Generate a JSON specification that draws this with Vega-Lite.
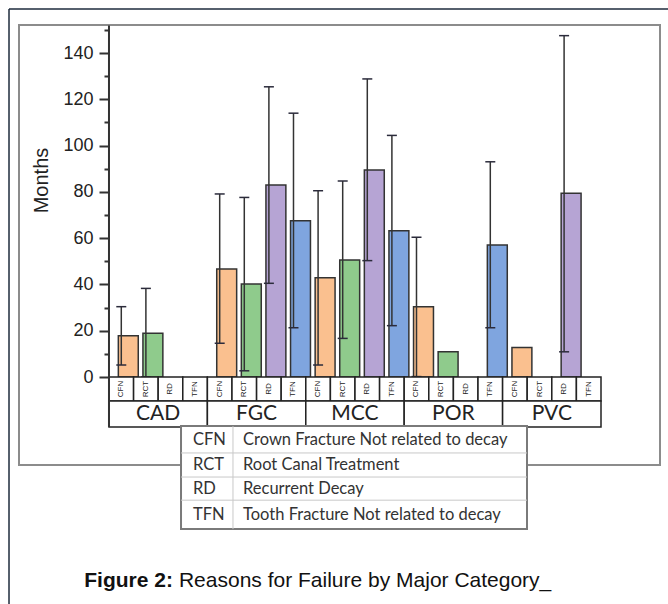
{
  "$schema": "https://vega.github.io/schema/vega-lite/v6.json",
  "width": 641,
  "height": 440,
  "autosize": {"type": "none"},
  "padding": {"left": 19, "top": 25, "right": 8, "bottom": 139},
  "background": "white",
  "config": {
    "view": {"stroke": "#8c8c8c", "strokeWidth": 2},
    "text": {"font": "Liberation Sans"}
  },
  "datasets": {
    "bars": [
      {"cat": "CAD", "reason": "CFN", "mean": 17.8, "lo": 5.2, "hi": 30.4},
      {"cat": "CAD", "reason": "RCT", "mean": 18.9, "lo": 0, "hi": 38.3},
      {"cat": "FGC", "reason": "CFN", "mean": 46.7, "lo": 14.6, "hi": 79.1},
      {"cat": "FGC", "reason": "RCT", "mean": 40.2, "lo": 2.7, "hi": 77.6},
      {"cat": "FGC", "reason": "RD", "mean": 83.0, "lo": 40.5, "hi": 125.4},
      {"cat": "FGC", "reason": "TFN", "mean": 67.5, "lo": 21.3, "hi": 114.0},
      {"cat": "MCC", "reason": "CFN", "mean": 42.9, "lo": 5.2, "hi": 80.5},
      {"cat": "MCC", "reason": "RCT", "mean": 50.6, "lo": 16.7, "hi": 84.7},
      {"cat": "MCC", "reason": "RD", "mean": 89.5, "lo": 50.3, "hi": 128.8},
      {"cat": "MCC", "reason": "TFN", "mean": 63.2, "lo": 22.2, "hi": 104.4},
      {"cat": "POR", "reason": "CFN", "mean": 30.4, "lo": 0.2, "hi": 60.4},
      {"cat": "POR", "reason": "RCT", "mean": 10.9, "lo": null, "hi": null},
      {"cat": "POR", "reason": "TFN", "mean": 57.0, "lo": 21.3, "hi": 93.0},
      {"cat": "PVC", "reason": "CFN", "mean": 12.8, "lo": null, "hi": null},
      {"cat": "PVC", "reason": "RD", "mean": 79.4, "lo": 10.9, "hi": 147.5}
    ],
    "cells": [
      {"cat": "CAD", "reason": "CFN"}, {"cat": "CAD", "reason": "RCT"}, {"cat": "CAD", "reason": "RD"}, {"cat": "CAD", "reason": "TFN"},
      {"cat": "FGC", "reason": "CFN"}, {"cat": "FGC", "reason": "RCT"}, {"cat": "FGC", "reason": "RD"}, {"cat": "FGC", "reason": "TFN"},
      {"cat": "MCC", "reason": "CFN"}, {"cat": "MCC", "reason": "RCT"}, {"cat": "MCC", "reason": "RD"}, {"cat": "MCC", "reason": "TFN"},
      {"cat": "POR", "reason": "CFN"}, {"cat": "POR", "reason": "RCT"}, {"cat": "POR", "reason": "RD"}, {"cat": "POR", "reason": "TFN"},
      {"cat": "PVC", "reason": "CFN"}, {"cat": "PVC", "reason": "RCT"}, {"cat": "PVC", "reason": "RD"}, {"cat": "PVC", "reason": "TFN"}
    ],
    "cats": [{"cat": "CAD"}, {"cat": "FGC"}, {"cat": "MCC"}, {"cat": "POR"}, {"cat": "PVC"}],
    "legend": [
      {"code": "CFN", "desc": "Crown Fracture Not related to decay"},
      {"code": "RCT", "desc": "Root Canal Treatment"},
      {"code": "RD", "desc": "Recurrent Decay"},
      {"code": "TFN", "desc": "Tooth Fracture Not related to decay"}
    ],
    "one": [{"k": 1}]
  },
  "resolve": {"axis": {"y": "independent", "x": "independent"}},
  "layer": [
    {
      "data": {"name": "bars"},
      "mark": {"type": "bar", "stroke": "#333333", "strokeWidth": 1.5, "width": {"band": 0.81}},
      "encoding": {
        "x": {"field": "cat", "type": "nominal", "axis": null,
              "scale": {"domain": ["CAD", "FGC", "MCC", "POR", "PVC"], "paddingInner": 0, "paddingOuter": 0.757, "align": 0.604}},
        "xOffset": {"field": "reason", "type": "nominal",
              "scale": {"domain": ["CFN", "RCT", "RD", "TFN"], "paddingInner": 0, "paddingOuter": 0}},
        "y": {"field": "mean", "type": "quantitative",
              "scale": {"domain": [-38, 152.1], "nice": false, "zero": false},
              "axis": {"orient": "left", "offset": -90, "values": [0, 20, 40, 60, 80, 100, 120, 140],
                       "domain": false, "grid": false, "tickSize": 10, "tickWidth": 2, "tickColor": "#333333",
                       "labelFont": "Liberation Sans", "labelFontSize": 18, "labelColor": "#222222", "labelPadding": 6,
                       "title": "Months", "titleFont": "Liberation Sans", "titleFontSize": 20, "titleFontWeight": "normal",
                       "titleColor": "#222222", "titleX": -58, "titleY": 155}},
        "y2": {"datum": 0},
        "color": {"field": "reason", "type": "nominal", "legend": null,
                  "scale": {"domain": ["CFN", "RCT", "RD", "TFN"], "range": ["#FAC08F", "#8FCB8C", "#B6A4D4", "#7FA5DF"]}}
      }
    },
    {
      "data": {"name": "bars"},
      "transform": [{"filter": "isValid(datum.lo)"}],
      "mark": {"type": "rule", "stroke": "#333333", "strokeWidth": 1.5},
      "encoding": {
        "x": {"field": "cat", "type": "nominal", "axis": null},
        "xOffset": {"field": "reason", "type": "nominal"},
        "y": {"field": "lo", "type": "quantitative",
              "axis": {"orient": "left", "offset": -90, "values": [10, 30, 50, 70, 90, 110, 130, 150],
                       "domain": false, "grid": false, "labels": false, "title": null,
                       "tickSize": 5, "tickWidth": 2, "tickColor": "#333333"}},
        "y2": {"field": "hi"}
      }
    },
    {
      "data": {"name": "bars"},
      "transform": [{"filter": "isValid(datum.hi)"}],
      "mark": {"type": "tick", "size": 10, "thickness": 1.5, "color": "#2b2b3b", "opacity": 1},
      "encoding": {
        "x": {"field": "cat", "type": "nominal", "axis": null},
        "xOffset": {"field": "reason", "type": "nominal"},
        "y": {"field": "hi", "type": "quantitative", "axis": null}
      }
    },
    {
      "data": {"name": "bars"},
      "transform": [{"filter": "isValid(datum.lo)"}],
      "mark": {"type": "tick", "size": 10, "thickness": 1.5, "color": "#2b2b3b", "opacity": 1},
      "encoding": {
        "x": {"field": "cat", "type": "nominal", "axis": null},
        "xOffset": {"field": "reason", "type": "nominal"},
        "y": {"field": "lo", "type": "quantitative", "axis": null}
      }
    },
    {
      "data": {"name": "cells"},
      "mark": {"type": "bar", "fill": "white", "stroke": "#222222", "strokeWidth": 1.5, "width": {"band": 1}},
      "encoding": {
        "x": {"field": "cat", "type": "nominal", "axis": null},
        "xOffset": {"field": "reason", "type": "nominal"},
        "y": {"datum": 0, "type": "quantitative", "axis": null},
        "y2": {"datum": -10.37}
      }
    },
    {
      "data": {"name": "cats"},
      "mark": {"type": "bar", "fill": "white", "stroke": "#222222", "strokeWidth": 1.5, "width": {"band": 1}},
      "encoding": {
        "x": {"field": "cat", "type": "nominal", "axis": null},
        "y": {"datum": -10.37, "type": "quantitative", "axis": null},
        "y2": {"datum": -21.6}
      }
    },
    {
      "data": {"name": "one"},
      "mark": {"type": "rule", "stroke": "#333333", "strokeWidth": 2},
      "encoding": {
        "x": {"datum": "CAD", "bandPosition": 0, "axis": null},
        "y": {"datum": 151.9, "type": "quantitative", "axis": null},
        "y2": {"datum": -21.6}
      }
    },
    {
      "data": {"name": "cells"},
      "mark": {"type": "text", "angle": 270, "fontSize": 8, "color": "#222222", "baseline": "middle", "align": "center"},
      "encoding": {
        "x": {"field": "cat", "type": "nominal", "axis": null},
        "xOffset": {"field": "reason", "type": "nominal"},
        "y": {"datum": -5.18, "type": "quantitative", "axis": null},
        "text": {"field": "reason"}
      }
    },
    {
      "data": {"name": "cats"},
      "mark": {"type": "text", "font": "Lato", "fontSize": 21, "color": "#222222", "baseline": "middle", "align": "center"},
      "encoding": {
        "x": {"field": "cat", "type": "nominal", "axis": null},
        "y": {"datum": -16, "type": "quantitative", "axis": null},
        "text": {"field": "cat"}
      }
    },
    {
      "data": {"name": "one"},
      "mark": {"type": "rule", "stroke": "#1e2b3c", "strokeWidth": 1.5},
      "encoding": {
        "x": {"datum": "CAD", "bandPosition": -1.016, "axis": null},
        "y": {"datum": 159.0, "type": "quantitative", "axis": null},
        "y2": {"datum": -120}
      }
    },
    {
      "data": {"name": "one"},
      "mark": {"type": "rule", "stroke": "#1e2b3c", "strokeWidth": 1.5},
      "encoding": {
        "x": {"datum": "CAD", "bandPosition": -1.016, "axis": null},
        "x2": {"datum": "PVC", "bandPosition": 2.0},
        "y": {"datum": 159.0, "type": "quantitative", "axis": null}
      }
    },
    {
      "data": {"name": "one"},
      "mark": {"type": "rect", "fill": "white", "stroke": "#7a7a7a", "strokeWidth": 2},
      "encoding": {
        "x": {"datum": "CAD", "bandPosition": 0.732, "axis": null},
        "x2": {"datum": "PVC", "bandPosition": 0.248},
        "y": {"datum": -21.2, "type": "quantitative", "axis": null},
        "y2": {"datum": -65.7}
      }
    },
    {
      "data": {"name": "one"},
      "mark": {"type": "rule", "stroke": "#c8c8c8", "strokeWidth": 1},
      "encoding": {
        "x": {"datum": "CAD", "bandPosition": 0.732, "axis": null},
        "x2": {"datum": "PVC", "bandPosition": 0.248},
        "y": {"datum": -32.8, "type": "quantitative", "axis": null}
      }
    },
    {
      "data": {"name": "one"},
      "mark": {"type": "rule", "stroke": "#c8c8c8", "strokeWidth": 1},
      "encoding": {
        "x": {"datum": "CAD", "bandPosition": 0.732, "axis": null},
        "x2": {"datum": "PVC", "bandPosition": 0.248},
        "y": {"datum": -43.2, "type": "quantitative", "axis": null}
      }
    },
    {
      "data": {"name": "one"},
      "mark": {"type": "rule", "stroke": "#c8c8c8", "strokeWidth": 1},
      "encoding": {
        "x": {"datum": "CAD", "bandPosition": 0.732, "axis": null},
        "x2": {"datum": "PVC", "bandPosition": 0.248},
        "y": {"datum": -53.2, "type": "quantitative", "axis": null}
      }
    },
    {
      "data": {"name": "one"},
      "mark": {"type": "rule", "stroke": "#c8c8c8", "strokeWidth": 1},
      "encoding": {
        "x": {"datum": "FGC", "bandPosition": 0.26, "axis": null},
        "y": {"datum": -21.2, "type": "quantitative", "axis": null},
        "y2": {"datum": -65.7}
      }
    },
    {
      "data": {"name": "legend"},
      "transform": [{"filter": "datum.code === 'CFN'"}],
      "layer": [
        {"mark": {"type": "text", "font": "Lato", "fontSize": 16.5, "color": "#333333", "align": "left", "baseline": "middle"},
         "encoding": {"x": {"datum": "CAD", "bandPosition": 0.854, "axis": null}, "y": {"datum": -27.0, "type": "quantitative", "axis": null}, "text": {"field": "code"}}},
        {"mark": {"type": "text", "font": "Lato", "fontSize": 16.5, "color": "#333333", "align": "left", "baseline": "middle"},
         "encoding": {"x": {"datum": "FGC", "bandPosition": 0.362, "axis": null}, "y": {"datum": -27.0, "type": "quantitative", "axis": null}, "text": {"field": "desc"}}}
      ]
    },
    {
      "data": {"name": "legend"},
      "transform": [{"filter": "datum.code === 'RCT'"}],
      "layer": [
        {"mark": {"type": "text", "font": "Lato", "fontSize": 16.5, "color": "#333333", "align": "left", "baseline": "middle"},
         "encoding": {"x": {"datum": "CAD", "bandPosition": 0.854, "axis": null}, "y": {"datum": -38.0, "type": "quantitative", "axis": null}, "text": {"field": "code"}}},
        {"mark": {"type": "text", "font": "Lato", "fontSize": 16.5, "color": "#333333", "align": "left", "baseline": "middle"},
         "encoding": {"x": {"datum": "FGC", "bandPosition": 0.362, "axis": null}, "y": {"datum": -38.0, "type": "quantitative", "axis": null}, "text": {"field": "desc"}}}
      ]
    },
    {
      "data": {"name": "legend"},
      "transform": [{"filter": "datum.code === 'RD'"}],
      "layer": [
        {"mark": {"type": "text", "font": "Lato", "fontSize": 16.5, "color": "#333333", "align": "left", "baseline": "middle"},
         "encoding": {"x": {"datum": "CAD", "bandPosition": 0.854, "axis": null}, "y": {"datum": -48.2, "type": "quantitative", "axis": null}, "text": {"field": "code"}}},
        {"mark": {"type": "text", "font": "Lato", "fontSize": 16.5, "color": "#333333", "align": "left", "baseline": "middle"},
         "encoding": {"x": {"datum": "FGC", "bandPosition": 0.362, "axis": null}, "y": {"datum": -48.2, "type": "quantitative", "axis": null}, "text": {"field": "desc"}}}
      ]
    },
    {
      "data": {"name": "legend"},
      "transform": [{"filter": "datum.code === 'TFN'"}],
      "layer": [
        {"mark": {"type": "text", "font": "Lato", "fontSize": 16.5, "color": "#333333", "align": "left", "baseline": "middle"},
         "encoding": {"x": {"datum": "CAD", "bandPosition": 0.854, "axis": null}, "y": {"datum": -59.4, "type": "quantitative", "axis": null}, "text": {"field": "code"}}},
        {"mark": {"type": "text", "font": "Lato", "fontSize": 16.5, "color": "#333333", "align": "left", "baseline": "middle"},
         "encoding": {"x": {"datum": "FGC", "bandPosition": 0.362, "axis": null}, "y": {"datum": -59.4, "type": "quantitative", "axis": null}, "text": {"field": "desc"}}}
      ]
    },
    {
      "data": {"name": "one"},
      "mark": {"type": "text", "font": "Liberation Sans", "fontSize": 21, "fontWeight": "bold", "color": "#111111", "align": "right", "baseline": "alphabetic", "text": "Figure 2:"},
      "encoding": {
        "x": {"datum": "CAD", "bandPosition": 0.65, "axis": null},
        "y": {"datum": -90.75, "type": "quantitative", "axis": null}
      }
    },
    {
      "data": {"name": "one"},
      "mark": {"type": "text", "font": "Liberation Sans", "fontSize": 21, "color": "#111111", "align": "left", "baseline": "alphabetic", "text": "Reasons for Failure by Major Category_"},
      "encoding": {
        "x": {"datum": "CAD", "bandPosition": 0.711, "axis": null},
        "y": {"datum": -90.75, "type": "quantitative", "axis": null}
      }
    }
  ]
}
